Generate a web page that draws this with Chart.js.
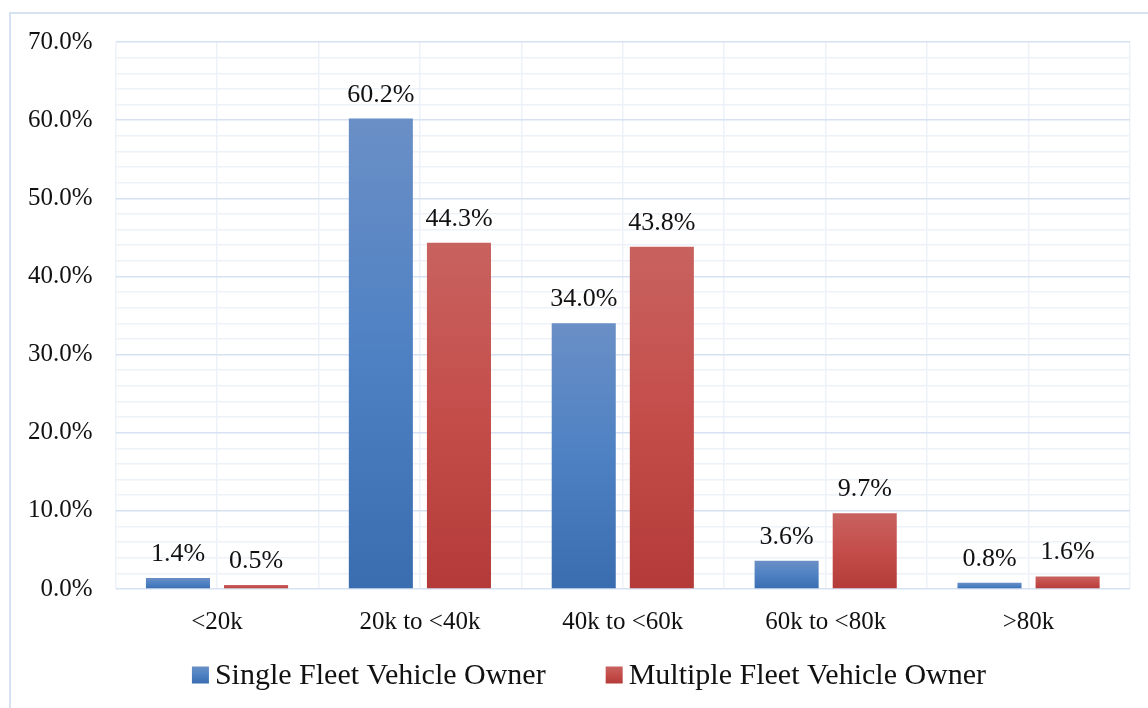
<!DOCTYPE html>
<html>
<head>
<meta charset="utf-8">
<script src="https://cdn.jsdelivr.net/npm/chart.js@4.4.1/dist/chart.umd.min.js"></script>
<style>
  html, body { margin: 0; padding: 0; background: #fff; }
  #wrap { width: 1148px; height: 708px; position: relative; }
</style>
</head>
<body>
<div id="wrap"><canvas id="chart"></canvas></div>
<script>
const categories = ["<20k", "20k to <40k", "40k to <60k", "60k to <80k", ">80k"];
const singleOwner = [1.4, 60.2, 34.0, 3.6, 0.8];
const multipleOwner = [0.5, 44.3, 43.8, 9.7, 1.6];
const seriesNames = ["Single Fleet Vehicle Owner", "Multiple Fleet Vehicle Owner"];
const yTicks = [0, 10, 20, 30, 40, 50, 60, 70];

const FONT = '"Liberation Serif", "Times New Roman", serif';
const blueStops = ["#6a8fc6", "#4e81c3", "#3a6db0"];
const redStops = ["#c8625f", "#c44d4a", "#b33a38"];

function fillGradient(c, stops, top, bottom) {
  const g = c.createLinearGradient(0, top, 0, bottom);
  g.addColorStop(0, stops[0]);
  g.addColorStop(0.5, stops[1]);
  g.addColorStop(1, stops[2]);
  return g;
}

// vertical gradient per bar, light at the top, dark at the base
function barGradient(stops) {
  return function(ctx) {
    const chart = ctx.chart;
    if (ctx.type !== "data" || !chart.chartArea) return stops[1];
    const y = chart.scales.y;
    const top = y.getPixelForValue(ctx.raw);
    const base = y.getPixelForValue(0);
    if (!isFinite(top) || base - top < 1) return stops[1];
    return fillGradient(chart.ctx, stops, top, base);
  };
}

// light blue frame round the whole picture
const frame = {
  id: "frame",
  beforeDraw(chart) {
    const c = chart.ctx;
    c.save();
    c.strokeStyle = "#d6e1f2";
    c.lineWidth = 2;
    c.strokeRect(10, 13, chart.width + 20, chart.height + 20);
    c.restore();
  }
};

// legend row below the axis: small square, short gap, wide spacing between items
const legendRow = {
  id: "legendRow",
  afterDraw(chart) {
    const c = chart.ctx;
    const box = 17, gap = 6, spacing = 60;
    const y = chart.height - 33;
    c.save();
    c.font = "30px " + FONT;
    c.textBaseline = "middle";
    const items = chart.data.datasets.map((ds) => ({
      label: ds.label,
      stops: ds.stops,
      w: box + gap + c.measureText(ds.label).width
    }));
    const total = items.reduce((s, it) => s + it.w, 0) + spacing * (items.length - 1);
    let x = 589 - total / 2;
    items.forEach((it) => {
      c.fillStyle = fillGradient(c, it.stops, y - box / 2, y + box / 2);
      c.fillRect(x, y - box / 2, box, box);
      c.fillStyle = "#111";
      c.fillText(it.label, x + box + gap, y + 1);
      x += it.w + spacing;
    });
    c.restore();
  }
};

// percentage labels above each bar
const valueLabels = {
  id: "valueLabels",
  afterDatasetsDraw(chart) {
    const c = chart.ctx;
    c.save();
    c.font = "26px " + FONT;
    c.fillStyle = "#111";
    c.textAlign = "center";
    c.textBaseline = "alphabetic";
    chart.data.datasets.forEach((ds, i) => {
      chart.getDatasetMeta(i).data.forEach((bar, j) => {
        c.fillText(ds.data[j].toFixed(1) + "%", bar.x, bar.y - 17);
      });
    });
    c.restore();
  }
};

new Chart(document.getElementById("chart"), {
  type: "bar",
  data: {
    labels: categories,
    datasets: [
      {
        label: seriesNames[0],
        data: singleOwner,
        stops: blueStops,
        backgroundColor: barGradient(blueStops),
        categoryPercentage: 0.77,
        barPercentage: 0.82
      },
      {
        label: seriesNames[1],
        data: multipleOwner,
        stops: redStops,
        backgroundColor: barGradient(redStops),
        categoryPercentage: 0.77,
        barPercentage: 0.82
      }
    ]
  },
  options: {
    responsive: true,
    maintainAspectRatio: false,
    animation: false,
    layout: { padding: { left: 5, right: 18, top: 42, bottom: 53 } },
    plugins: {
      tooltip: { enabled: false },
      legend: { display: false }
    },
    scales: {
      x: {
        grid: { color: "#edf2f9", lineWidth: 1.5, drawTicks: false, offset: true },
        border: { display: false },
        ticks: { font: { family: FONT, size: 25 }, color: "#111", padding: 18 }
      },
      x2: {
        type: "category",
        position: "top",
        grid: { color: "#edf2f9", lineWidth: 1.5, drawTicks: false, offset: false },
        border: { display: false },
        ticks: { display: false }
      },
      y: {
        min: yTicks[0],
        max: yTicks[yTicks.length - 1],
        border: { display: false },
        grid: {
          drawTicks: false,
          lineWidth: 1.5,
          color: (ctx) => (ctx.tick && yTicks.includes(ctx.tick.value) ? "#d6e1f2" : "#edf2f9")
        },
        ticks: {
          stepSize: 2,
          autoSkip: false,
          padding: 23,
          font: { family: FONT, size: 25 },
          color: "#111",
          callback: (v) => (yTicks.includes(v) ? v.toFixed(1) + "%" : "")
        }
      }
    }
  },
  plugins: [frame, legendRow, valueLabels]
});
</script>
</body>
</html>
